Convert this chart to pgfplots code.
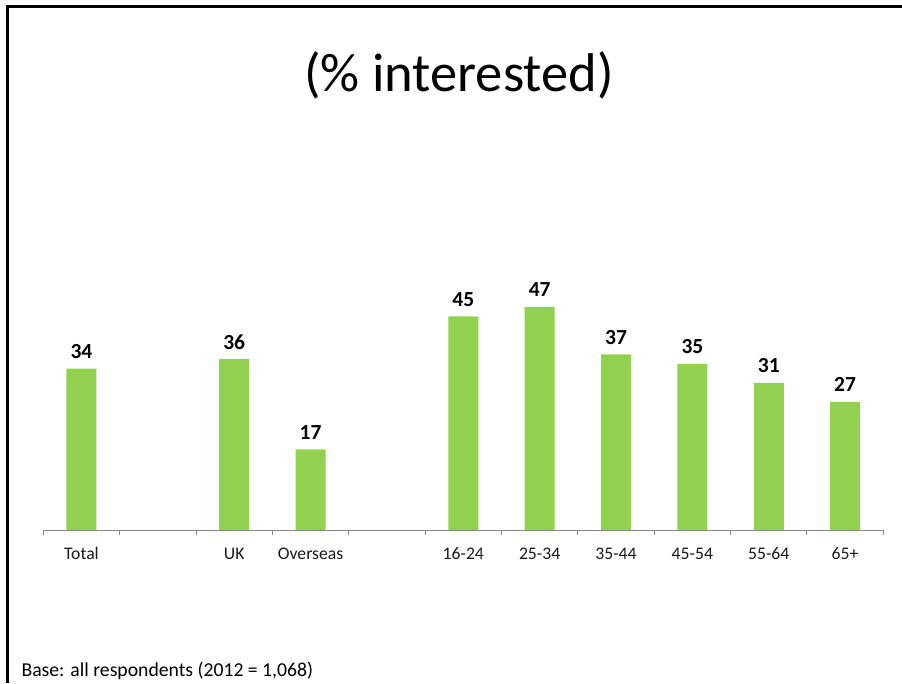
\documentclass[border=0pt]{standalone}
\usepackage{pgfplots}
\pgfplotsset{compat=1.18}
\usepackage{fontspec}
\setmainfont{Carlito}
\definecolor{bargreen}{HTML}{92D050}
\definecolor{axgray}{HTML}{868686}
\begin{document}
\begin{tikzpicture}[x=1pt,y=1pt]
\useasboundingbox (0,0) rectangle (902,683);
\draw[line width=3pt,black] (7.5,0) -- (7.5,676.3) -- (902,676.3);
\node[anchor=base,font=\fontsize{54.5}{62}\selectfont] at (459,591) {(\% interested)};
\node[anchor=base west,font=\fontsize{19.7}{23}\selectfont] at (18,7) {Base: all respondents (2012 = 1,068)};
\begin{axis}[
  at={(43.3pt,153pt)}, anchor=south west,
  scale only axis, width=840pt, height=284.7pt,
  xmin=-0.5, xmax=10.5, ymin=0, ymax=60,
  axis y line=none, axis x line*=bottom,
  x axis line style={draw=axgray, line width=1pt, -},
  xtick={0,...,10},
  xticklabels={Total,{},UK,Overseas,{},16-24,25-34,35-44,45-54,55-64,65+},
  major tick length=0pt,
  minor xtick={-0.5,0.5,...,10.5},
  minor tick length=5pt,
  tick align=outside,
  minor tick style={draw=axgray, line width=1pt},
  xticklabel style={font=\fontsize{17.7}{21}\selectfont, text=black!90, anchor=base, inner sep=0pt},
  every x tick label/.append style={yshift=-29pt},
  ybar, bar width=30pt,
  nodes near coords,
  every node near coord/.append style={font=\fontsize{21.5}{25}\selectfont\bfseries, text=black, anchor=base, inner sep=0pt, yshift=10pt},
  /pgf/number format/assume math mode=true,
  clip=false,
]
\addplot[draw=none, fill=bargreen] coordinates {
  (0,34) (2,36) (3,17) (5,45) (6,47) (7,37) (8,35) (9,31) (10,27)
};
\end{axis}
\end{tikzpicture}
\end{document}
